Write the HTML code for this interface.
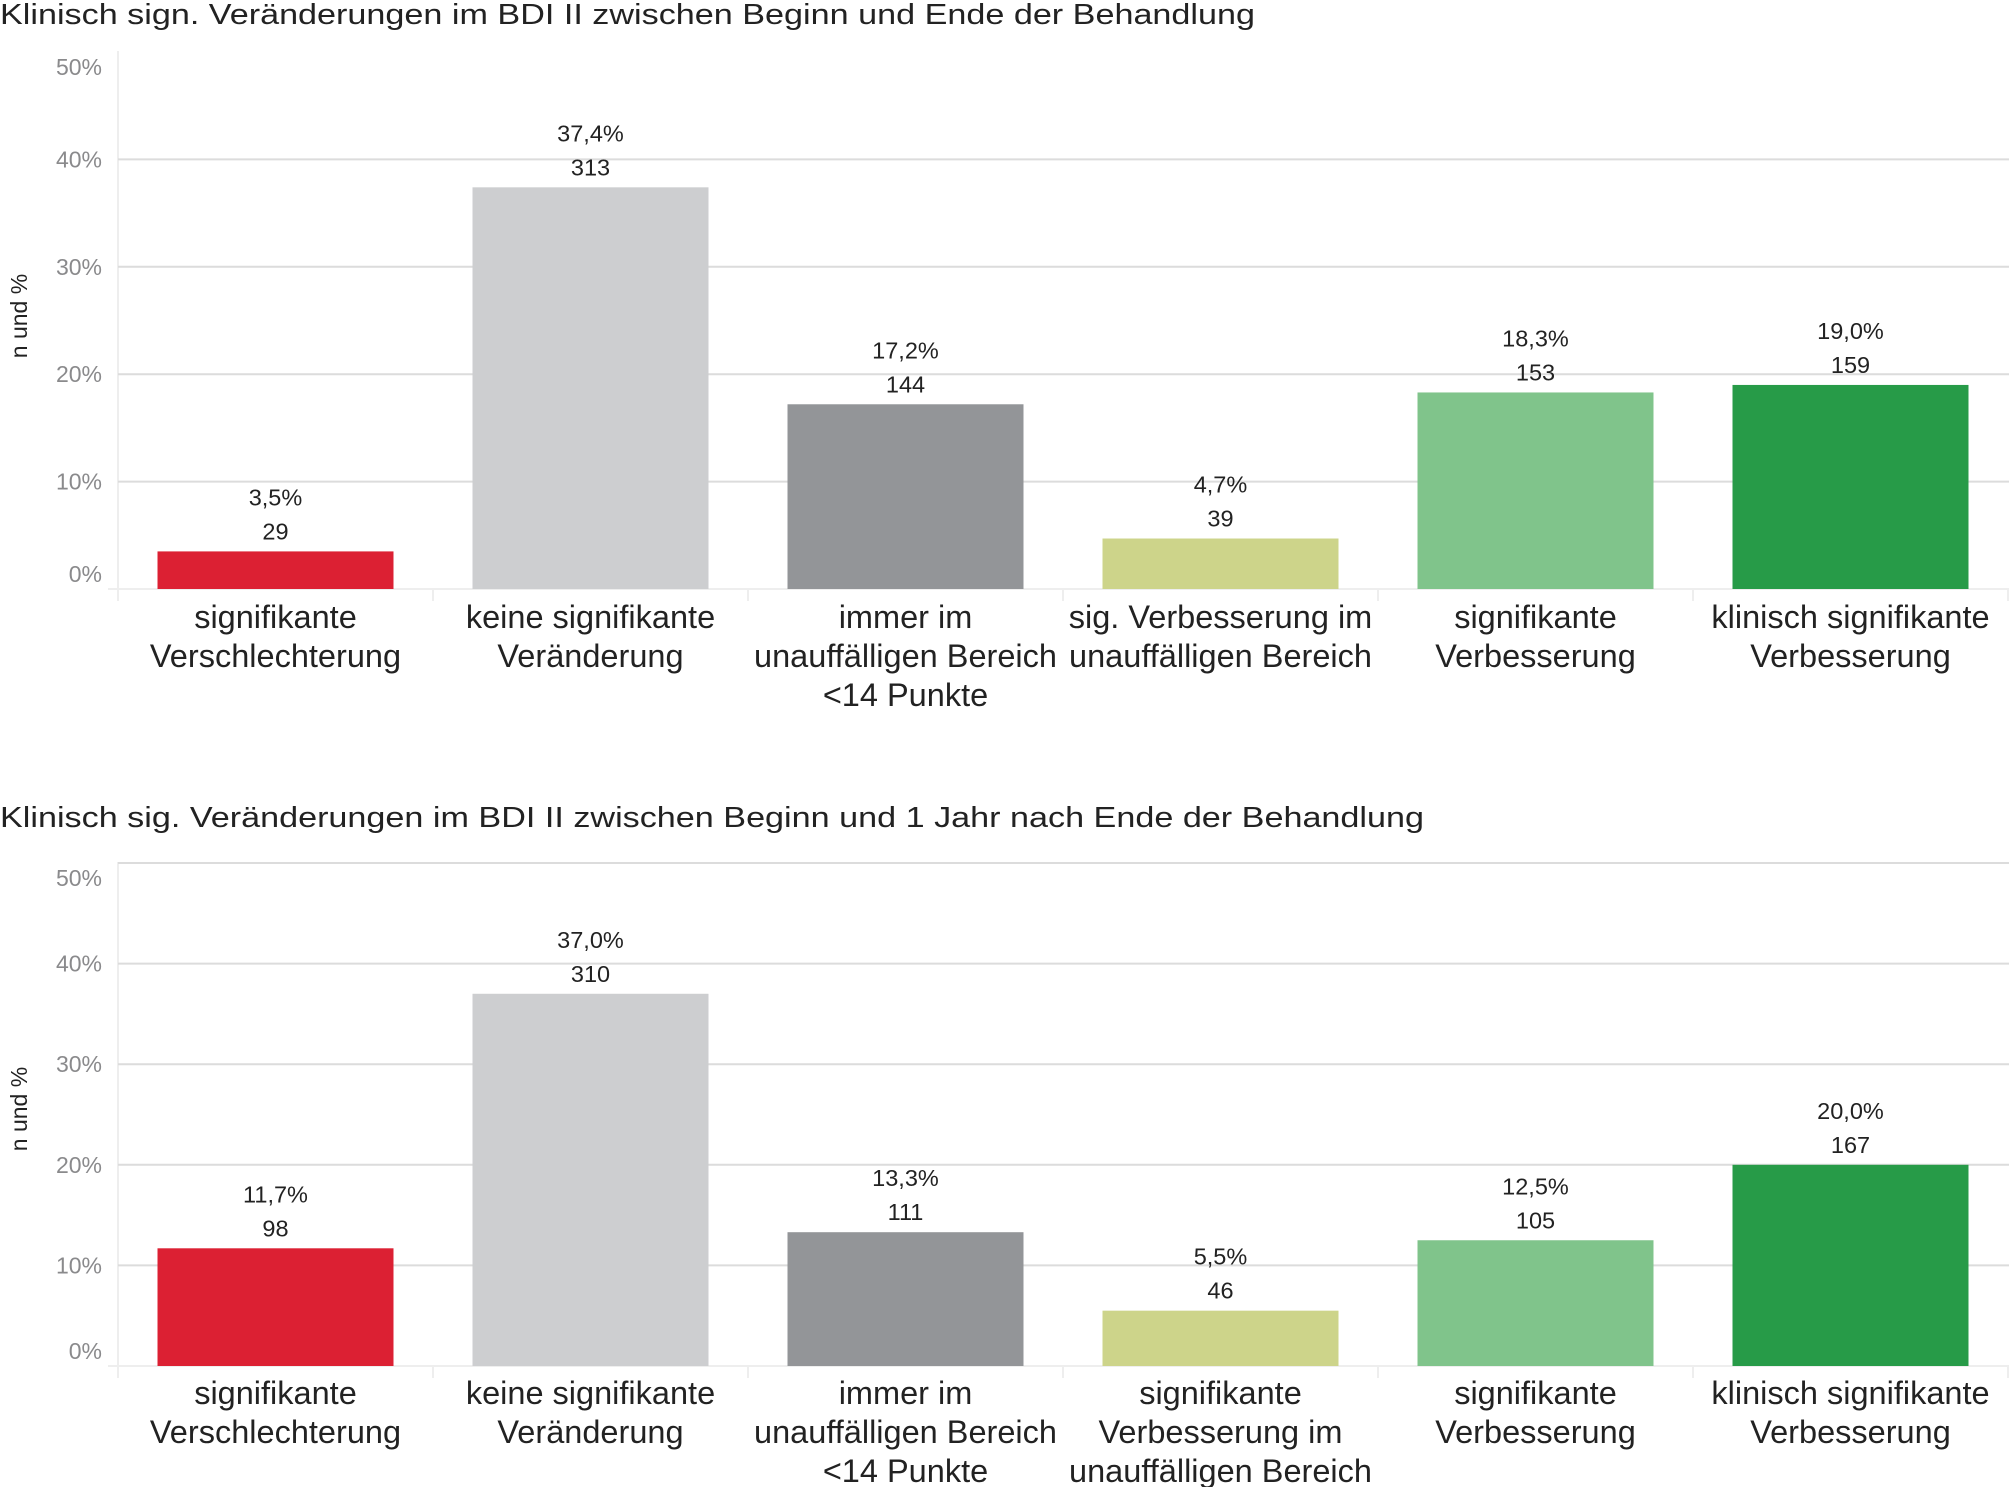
<!DOCTYPE html>
<html><head><meta charset="utf-8"><style>
html,body{margin:0;padding:0;background:#fff;}
svg{display:block;font-family:"Liberation Sans",Arial,sans-serif;}
</style></head><body>
<svg id="s" width="2009" height="1487" viewBox="0 0 2009 1487"></svg>
<script>
const categories1 = [["signifikante","Verschlechterung"],["keine signifikante","Veränderung"],["immer im","unauffälligen Bereich","<14 Punkte"],["sig. Verbesserung im","unauffälligen Bereich"],["signifikante","Verbesserung"],["klinisch signifikante","Verbesserung"]];
const categories2 = [["signifikante","Verschlechterung"],["keine signifikante","Veränderung"],["immer im","unauffälligen Bereich","<14 Punkte"],["signifikante","Verbesserung im","unauffälligen Bereich"],["signifikante","Verbesserung"],["klinisch signifikante","Verbesserung"]];
const pct1 = [3.5, 37.4, 17.2, 4.7, 18.3, 19.0];
const count1 = [29, 313, 144, 39, 153, 159];
const pct2 = [11.7, 37.0, 13.3, 5.5, 12.5, 20.0];
const count2 = [98, 310, 111, 46, 105, 167];
const yTicks = [0, 10, 20, 30, 40, 50];
const colors = ["#DC2033","#CDCED0","#939598","#CDD48A","#80C48B","#279B48"];

const NS = "http://www.w3.org/2000/svg";
const svg = document.getElementById("s");
function mk(tag, attrs, parent, text){
  const e = document.createElementNS(NS, tag);
  for (const k in attrs) e.setAttribute(k, attrs[k]);
  if (text !== undefined) e.textContent = text;
  (parent || svg).appendChild(e);
  return e;
}
function fmt(v){ return v.toFixed(1).replace(".", ",") + "%"; }

function chart(opt){
  const g = mk("g", {});
  
  
  const left = 118, slot = 315, zero = opt.zero, unit = opt.unit, top = opt.top;
  const y = v => zero - v * unit;
  const xc = i => left + slot * (i + 0.5);

  const t = mk("text", {x: 0, y: opt.titleY, "font-size": 29, fill: "#222", textLength: opt.titleW, lengthAdjust: "spacingAndGlyphs"}, g, opt.title);
  
  

  const ax = mk("line", {x1: left, x2: left, y1: top, y2: zero + 12, stroke: "#eee", "stroke-width": 2}, g);
  
  

  yTicks.forEach(v => {
    if (v > 0 && (v < 50 || opt.topGrid)) {
      const gl = mk("line", {x1: left, x2: 2009, y1: y(v), y2: y(v), stroke: "#dcdcdc", "stroke-width": 2}, g);
      
      
    }
    let ly = y(v);
    ly = Math.max(top + 16, Math.min(zero - 15, ly));
    const tl = mk("text", {x: 102, y: ly + 8, "font-size": 23, fill: "#8a8a8c", "text-anchor": "end"}, g, v + "%");
    
    
  });
  const zl = mk("line", {x1: 108, x2: 2009, y1: zero, y2: zero, stroke: "#eeeeee", "stroke-width": 2}, g);
  
  
  for (let i = 0; i <= 6; i++) {
    const tk = mk("line", {x1: left + slot * i, x2: left + slot * i, y1: zero, y2: zero + 12, stroke: "#eee", "stroke-width": 2}, g);
    
    
  }

  const yt = mk("text", {x: 0, y: 0, "font-size": 23, fill: "#222", "text-anchor": "middle", transform: `translate(27,${opt.yTitleY}) rotate(-90)`}, g, "n und %");
  
  

  opt.pct.forEach((v, i) => {
    const bw = 236;
    const r = mk("rect", {x: xc(i) - bw / 2, y: y(v), width: bw, height: zero - y(v), fill: colors[i]}, g);
    
    
    const p = mk("text", {x: xc(i), y: y(v) - 46, "font-size": 23.5, fill: "#222", "text-anchor": "middle"}, g, fmt(v));
    
    
    const n = mk("text", {x: xc(i), y: y(v) - 12, "font-size": 23.5, fill: "#222", "text-anchor": "middle"}, g, String(opt.count[i]));
    
    
  });

  opt.cats.forEach((lines, i) => {
    lines.forEach((ln, j) => {
      const c = mk("text", {x: xc(i), y: opt.catY + j * 39, "font-size": 32.5, fill: "#222", "text-anchor": "middle"}, g, ln);
      
      
    });
  });
}

chart({name: "chart-end-of-treatment", title: "Klinisch sign. Veränderungen im BDI II zwischen Beginn und Ende der Behandlung",
  titleY: 24, titleW: 1255, zero: 589, unit: 10.74, top: 51, topGrid: false, yTitleY: 316, catY: 628,
  pct: pct1, count: count1, cats: categories1});
chart({name: "chart-one-year-followup", title: "Klinisch sig. Veränderungen im BDI II zwischen Beginn und 1 Jahr nach Ende der Behandlung",
  titleY: 827, titleW: 1424, zero: 1366, unit: 10.06, top: 862, topGrid: true, yTitleY: 1109, catY: 1404,
  pct: pct2, count: count2, cats: categories2});
</script>
</body></html>
